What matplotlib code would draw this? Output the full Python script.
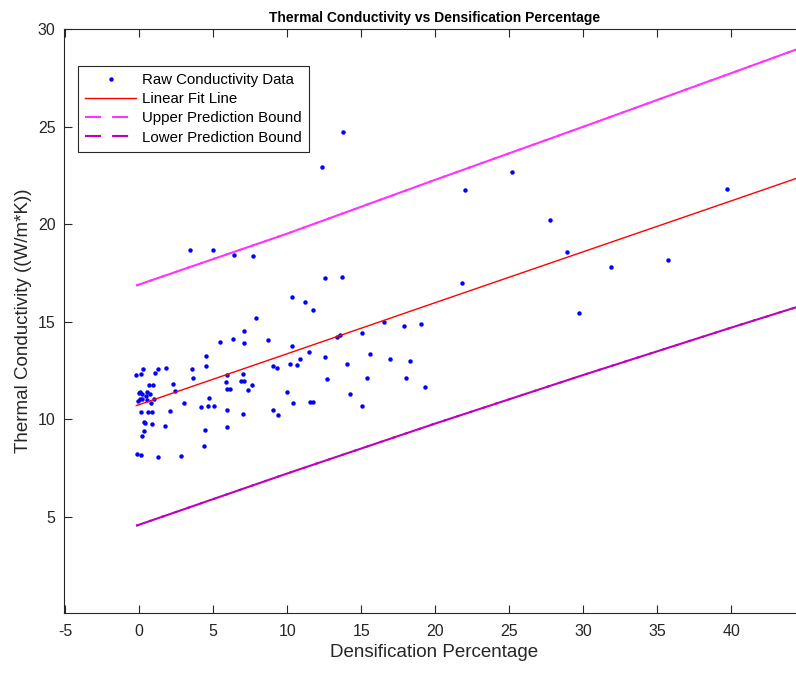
import matplotlib.pyplot as plt
import numpy as np

plt.rcParams['font.family'] = ['Liberation Sans', 'DejaVu Sans']
plt.rcParams['axes.unicode_minus'] = False

# raw data (densification %, conductivity W/m*K)
dens = [-0.20, 0.11, 0.27, 1.06, 1.24, 1.84, 0.63, 0.90, 2.30, 2.39,
        0.05, 0.00, 0.20, 0.54, 0.76, -0.09, 0.07, 0.22, 0.49, 0.54,
        0.79, 1.01, 3.04, 0.14, 0.59, 0.83, 2.11, 0.34, 0.39, 0.86,
        1.74, 0.32, 0.18, 4.44, 4.39, -0.14, 0.11, 1.30, 2.82,
        3.43, 5.00, 6.42, 7.72, 10.34, 11.17, 11.74, 7.86, 7.11, 5.47,
        6.33, 7.05, 8.70, 10.32, 11.44, 4.53, 4.53, 10.86, 10.16, 10.68,
        9.01, 9.34, 3.58, 3.63, 5.93, 7.01, 5.86, 6.89, 7.09, 7.59,
        5.93, 6.13, 7.32, 9.98, 4.73, 4.14, 4.64, 5.07, 5.90, 10.41,
        11.51, 11.74, 7.01, 9.01, 9.37, 5.93,
        13.74, 12.36, 21.98, 12.57, 13.72, 21.78, 16.53, 17.86, 19.05, 13.33,
        13.58, 15.02, 12.55, 14.05, 15.59, 16.96, 18.31, 12.68, 15.39, 18.02,
        19.30, 14.21, 15.07,
        25.18, 27.77, 28.92, 31.89, 35.74, 29.73, 39.71]
cond = [12.26, 12.34, 12.57, 12.38, 12.60, 12.65, 11.75, 11.75, 11.81, 11.47,
        11.42, 11.34, 11.32, 11.42, 11.30, 10.96, 11.03, 11.06, 11.18, 10.99,
        10.85, 11.03, 10.85, 10.36, 10.36, 10.39, 10.44, 9.85, 9.79, 9.76,
        9.64, 9.42, 9.13, 9.45, 8.63, 8.22, 8.17, 8.08, 8.10,
        18.66, 18.66, 18.44, 18.35, 16.25, 16.02, 15.60, 15.19, 14.55, 13.95,
        14.12, 13.92, 14.07, 13.75, 13.44, 13.27, 12.75, 13.08, 12.84, 12.80,
        12.72, 12.65, 12.57, 12.11, 12.29, 12.34, 11.93, 11.98, 11.98, 11.75,
        11.54, 11.57, 11.49, 11.40, 11.09, 10.63, 10.70, 10.67, 10.48, 10.82,
        10.87, 10.90, 10.26, 10.48, 10.21, 9.59,
        24.74, 22.96, 21.78, 17.27, 17.31, 17.00, 14.98, 14.78, 14.86, 14.21,
        14.31, 14.40, 13.18, 12.82, 13.35, 13.08, 12.98, 12.07, 12.12, 12.11,
        11.64, 11.30, 10.70,
        22.67, 20.22, 18.58, 17.81, 18.18, 15.46, 21.79]

# fit line and prediction bounds
line_x = [-0.2, 10, 20, 30, 40, 45]
fit_y = [10.70, 13.36, 15.98, 18.59, 21.20, 22.51]
upper_y = [16.86, 19.52, 22.28, 25.00, 27.75, 29.13]
lower_y = [4.54, 7.22, 9.78, 12.27, 14.70, 15.89]

fig = plt.figure(figsize=(7.96, 6.73), dpi=100)
ax = fig.add_axes([0.0801, 0.0896, 0.9315, 0.8669])

ax.plot(dens, cond, 'o', color='b', ms=3.2, mew=0, label='Raw Conductivity Data')
ax.plot(line_x, fit_y, color='r', lw=1.0, label='Linear Fit Line')
ax.plot(line_x, upper_y, color='#ff33ff', lw=1.5, ls=(0, (7.7, 5.3)),
        label='Upper Prediction Bound')
ax.plot(line_x, upper_y, color='#ff33ff', lw=1.5, ls=(6.5, (7.7, 5.3)))
ax.plot(line_x, lower_y, color='m', lw=1.5, ls=(0, (7.7, 5.3)),
        label='Lower Prediction Bound')
ax.plot(line_x, lower_y, color='m', lw=1.5, ls=(6.5, (7.7, 5.3)))

ax.set_xlim(-5.1, 45)
ax.set_ylim(0.08, 30)
ax.set_xticks(np.arange(-5, 45, 5))
ax.set_yticks(np.arange(5, 35, 5))
ax.tick_params(direction='in', length=5.5, width=0.8, colors='#262626',
               labelsize=11.5, top=True, right=True)
ax.tick_params(axis='x', pad=8)
ax.tick_params(axis='y', pad=6)
for s in ax.spines.values():
    s.set_color('#262626')
    s.set_linewidth(0.8)

ax.set_xlabel('Densification Percentage', fontsize=13.5, color='#262626')
ax.set_ylabel('Thermal Conductivity ((W/m*K))', fontsize=13.5, color='#262626')
ax.set_title('Thermal Conductivity vs Densification Percentage',
             fontsize=10, fontweight='bold', pad=5)

leg = ax.legend(loc='upper left', bbox_to_anchor=(0.0196, 0.937), fontsize=10.8,
                fancybox=False, framealpha=1, edgecolor='#262626',
                handlelength=3.35, handletextpad=0.42, labelspacing=0.34,
                borderpad=0.48, borderaxespad=0)
leg.get_frame().set_linewidth(0.8)

fig.savefig('out.png', dpi=100)
